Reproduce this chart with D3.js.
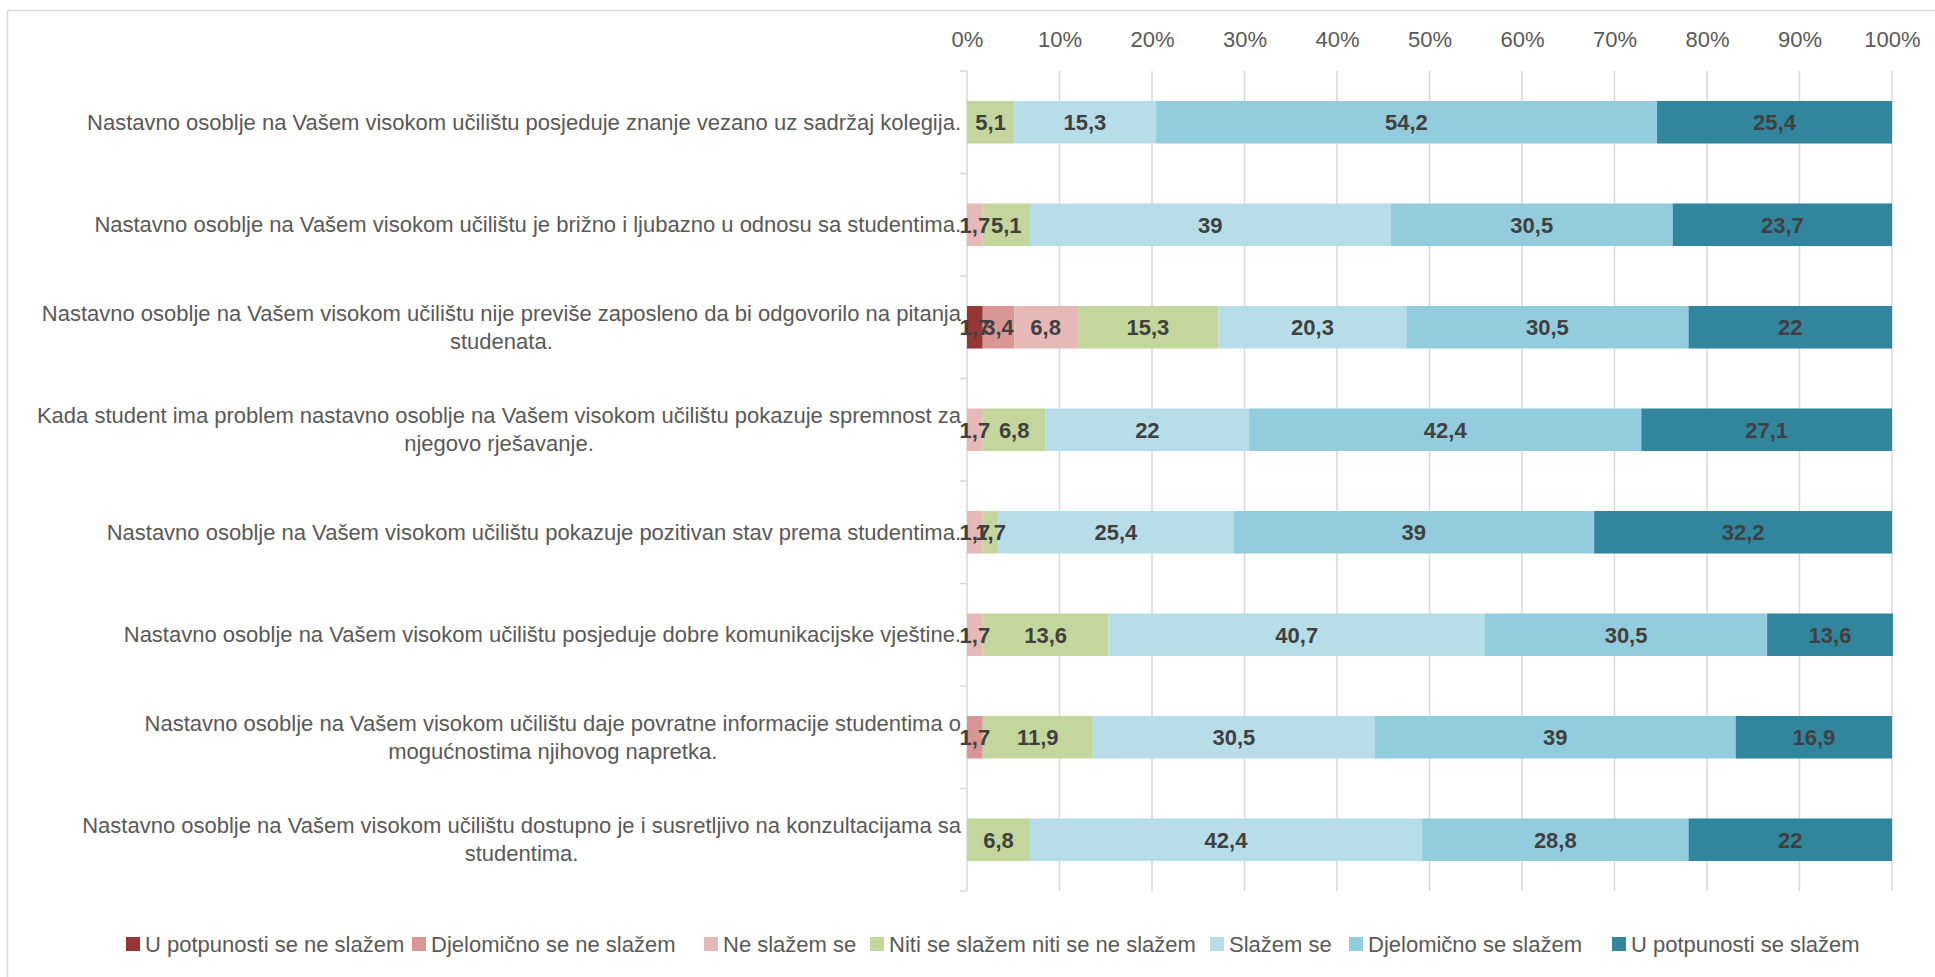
<!DOCTYPE html>
<html>
<head>
<meta charset="utf-8">
<script src="https://cdn.jsdelivr.net/npm/d3@7"></script>
<style>
  body { margin: 0; background: #fff; }
  svg text { font-family: "Liberation Sans", Arial, sans-serif; }
</style>
</head>
<body>
<div id="chart"></div>
<script>
var categories = [
  ["Nastavno osoblje na Vašem visokom učilištu posjeduje znanje vezano uz sadržaj kolegija."],
  ["Nastavno osoblje na Vašem visokom učilištu je brižno i ljubazno u odnosu sa studentima."],
  ["Nastavno osoblje na Vašem visokom učilištu nije previše zaposleno da bi odgovorilo na pitanja", "studenata."],
  ["Kada student ima problem nastavno osoblje na Vašem visokom učilištu pokazuje spremnost za", "njegovo rješavanje."],
  ["Nastavno osoblje na Vašem visokom učilištu pokazuje pozitivan stav prema studentima."],
  ["Nastavno osoblje na Vašem visokom učilištu posjeduje dobre komunikacijske vještine."],
  ["Nastavno osoblje na Vašem visokom učilištu daje povratne informacije studentima o", "mogućnostima njihovog napretka."],
  ["Nastavno osoblje na Vašem visokom učilištu dostupno je i susretljivo na konzultacijama sa", "studentima."]
];

var seriesNames = [
  "U potpunosti se ne slažem",
  "Djelomično se ne slažem",
  "Ne slažem se",
  "Niti se slažem niti se ne slažem",
  "Slažem se",
  "Djelomično se slažem",
  "U potpunosti se slažem"
];

var colors = ["#953735", "#D99694", "#E6B9B8", "#C3D69B", "#B7DEE8", "#93CDDD", "#31859C"];

// one array per series, values per category (top to bottom)
var potpunoNe   = [0,   0,   1.7, 0,   0,   0,   0,   0];
var djelomNe    = [0,   0,   3.4, 0,   0,   0,   1.7, 0];
var neSlazem    = [0,   1.7, 6.8, 1.7, 1.7, 1.7, 0,   0];
var niti        = [5.1, 5.1, 15.3, 6.8, 1.7, 13.6, 11.9, 6.8];
var slazem      = [15.3, 39, 20.3, 22, 25.4, 40.7, 30.5, 42.4];
var djelomDa    = [54.2, 30.5, 30.5, 42.4, 39, 30.5, 39, 28.8];
var potpunoDa   = [25.4, 23.7, 22, 27.1, 32.2, 13.6, 16.9, 22];

var seriesValues = [potpunoNe, djelomNe, neSlazem, niti, slazem, djelomDa, potpunoDa];

var xTicks = [0, 10, 20, 30, 40, 50, 60, 70, 80, 90, 100];

var W = 1935, H = 977;
var margin = { top: 71, right: 43, bottom: 86, left: 967 };
var width = W - margin.left - margin.right,
    height = H - margin.top - margin.bottom;

var svg = d3.select("#chart").append("svg")
  .attr("width", W)
  .attr("height", H);

// chart border
svg.append("rect")
  .attr("x", 7.5).attr("y", 10.5)
  .attr("width", W).attr("height", H)
  .attr("fill", "none")
  .attr("stroke", "#D9D9D9")
  .attr("stroke-width", 1.5);

var g = svg.append("g")
  .attr("transform", "translate(" + margin.left + "," + margin.top + ")");

var x = d3.scaleLinear().domain([0, 100]).range([0, width]);
var y = d3.scaleBand().domain(d3.range(categories.length)).range([0, height]).paddingInner(0.585).paddingOuter(0.2925);

// gridlines
g.append("g").selectAll("line").data(xTicks).join("line")
  .attr("x1", function(d) { return x(d); })
  .attr("x2", function(d) { return x(d); })
  .attr("y1", 0).attr("y2", height)
  .attr("stroke", "#D9D9D9").attr("stroke-width", 1.5);

// top axis labels
var xAxis = g.append("g")
  .call(d3.axisTop(x).tickValues(xTicks).tickFormat(function(d) { return d + "%"; }).tickSize(0).tickPadding(24));
xAxis.select(".domain").remove();
xAxis.selectAll("text")
  .attr("fill", "#595959")
  .style("font-size", "22px");

// category ticks
var step = height / categories.length;
g.append("g").selectAll("line").data(d3.range(categories.length + 1)).join("line")
  .attr("x1", -7).attr("x2", 0)
  .attr("y1", function(d) { return d * step; })
  .attr("y2", function(d) { return d * step; })
  .attr("stroke", "#D9D9D9").attr("stroke-width", 1.5);

// stacked data
var rows = categories.map(function(c, i) {
  var r = { idx: i };
  seriesNames.forEach(function(s, k) { r[s] = seriesValues[k][i]; });
  return r;
});
var stack = d3.stack().keys(seriesNames);
var stacked = stack(rows);

var layers = g.append("g").selectAll("g").data(stacked).join("g")
  .attr("fill", function(d, i) { return colors[i]; });

layers.selectAll("rect").data(function(d) { return d; }).join("rect")
  .attr("x", function(d) { return x(d[0]); })
  .attr("width", function(d) { return x(d[1]) - x(d[0]); })
  .attr("y", function(d) { return y(d.data.idx); })
  .attr("height", y.bandwidth());

// data labels
var labels = g.append("g");
stacked.forEach(function(layer) {
  layer.forEach(function(d) {
    var raw = d.data[layer.key];
    if (!raw) return;
    labels.append("text")
      .attr("x", x((d[0] + d[1]) / 2))
      .attr("y", y(d.data.idx) + y.bandwidth() / 2)
      .attr("dy", "0.36em")
      .attr("text-anchor", "middle")
      .attr("fill", "#404040")
      .style("font-size", "22px")
      .style("font-weight", "bold")
      .text(String(raw).replace(".", ","));
  });
});

// category labels
var catG = svg.append("g");
categories.forEach(function(lines, i) {
  var cy = margin.top + y(i) + y.bandwidth() / 2;
  var t = catG.append("text")
    .attr("fill", "#595959")
    .style("font-size", "22px")
    .attr("text-anchor", "middle");
  var lh = 28;
  lines.forEach(function(l, j) {
    t.append("tspan").text(l)
      .attr("y", cy + (j - (lines.length - 1) / 2) * lh)
      .attr("dy", "0.35em");
  });
  var maxW = 0;
  t.selectAll("tspan").each(function() { maxW = Math.max(maxW, this.getComputedTextLength()); });
  t.selectAll("tspan").attr("x", margin.left - 6 - maxW / 2);
});

// legend
var legendX = [126, 412, 704, 870, 1210, 1349, 1612];
var leg = svg.append("g").selectAll("g").data(seriesNames).join("g")
  .attr("transform", function(d, i) { return "translate(" + legendX[i] + ",937)"; });
leg.append("rect").attr("width", 14).attr("height", 14)
  .attr("fill", function(d, i) { return colors[i]; });
leg.append("text")
  .attr("x", 19).attr("y", 7).attr("dy", "0.35em")
  .attr("fill", "#595959")
  .style("font-size", "22px")
  .text(function(d) { return d; });
</script>
</body>
</html>
